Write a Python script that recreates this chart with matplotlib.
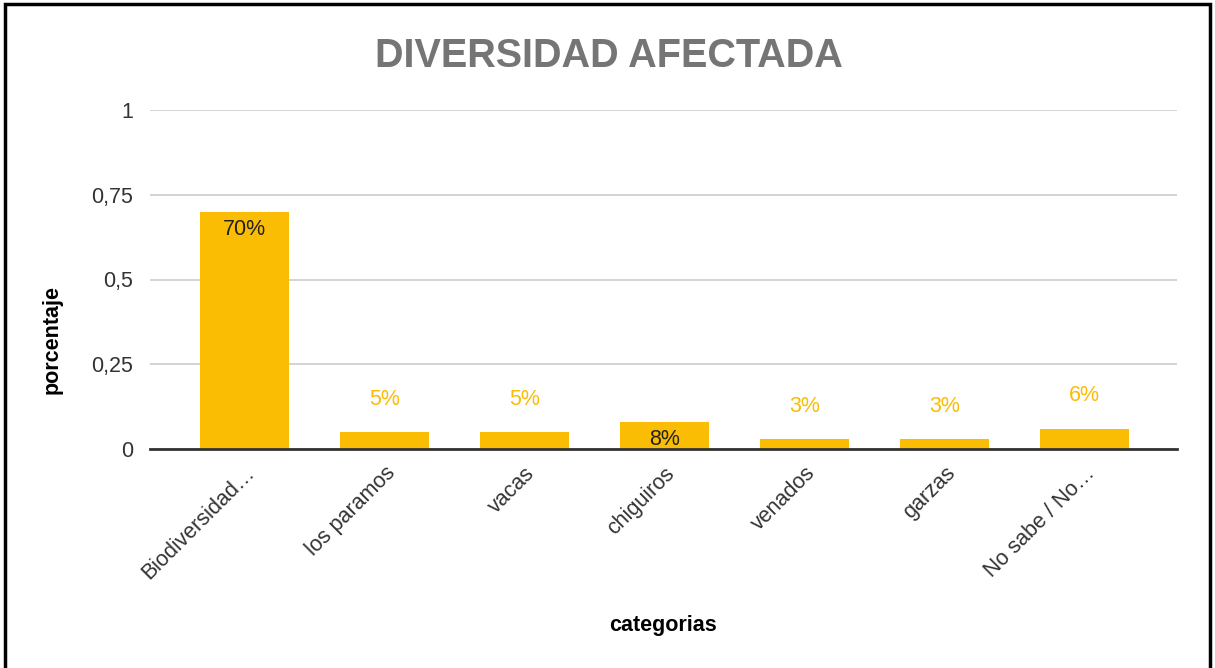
import matplotlib
matplotlib.use("Agg")
from matplotlib import pyplot as plt
from matplotlib.patches import Rectangle

categorias = ["Biodiversidad…", "los paramos", "vacas", "chiguiros", "venados", "garzas", "No sabe / No…"]
porcentaje = [0.70, 0.05, 0.05, 0.08, 0.03, 0.03, 0.06]
etiquetas = ["70%", "5%", "5%", "8%", "3%", "3%", "6%"]
dentro = [True, False, False, True, False, False, False]

y_ticks = [0, 0.25, 0.5, 0.75, 1]
y_tick_labels = ["0", "0,25", "0,5", "0,75", "1"]

plt.rcParams['font.family'] = ['Liberation Sans', 'DejaVu Sans']

fig = plt.figure(figsize=(12.15, 6.68), dpi=100)
ax = fig.add_axes([150/1215, 1 - 449/668, 1027/1215, 339/668])

x = list(range(len(categorias)))
ax.bar(x, porcentaje, width=0.64, color="#FBBC04", zorder=3)

for i, v in enumerate(porcentaje):
    if dentro[i]:
        ax.annotate(etiquetas[i], (i, v), xytext=(0, -5), textcoords="offset points",
                    ha="center", va="top", fontsize=15.5, color="#222222", zorder=4)
    else:
        ax.annotate(etiquetas[i], (i, v), xytext=(0, 16), textcoords="offset points",
                    ha="center", va="bottom", fontsize=15.5, color="#FBBC04", zorder=4)

ax.set_xlim(-0.675, len(categorias) - 1 + 0.66)
ax.set_ylim(0, 1)
ax.set_yticks(y_ticks)
ax.set_yticklabels(y_tick_labels, fontsize=15.5, color="#333333")
ax.set_xticks(x)
ax.set_xticklabels(categorias, rotation=45, ha="right", rotation_mode="anchor",
                   fontsize=15.5, color="#333333")
ax.tick_params(axis="both", length=0, pad=12)
ax.tick_params(axis="x", pad=10)

ax.grid(axis="y", color="#cccccc", linewidth=1.2, zorder=0)
for s in ["top", "right", "left"]:
    ax.spines[s].set_visible(False)
ax.spines["bottom"].set_color("#333333")
ax.spines["bottom"].set_linewidth(2)
ax.spines["bottom"].set_zorder(5)

fig.text(52/1215, 1 - 340/668, "porcentaje", rotation=90, ha="center", va="center",
         fontsize=15.5, fontweight="bold", color="black")
fig.text(663/1215, 1 - 625/668, "categorias", ha="center", va="center",
         fontsize=15.5, fontweight="bold", color="black")

fig.text(609/1215, 1 - 56/668, "DIVERSIDAD AFECTADA", ha="center", va="center",
         fontsize=28.5, fontweight="bold", color="#757575")

fig.patches.append(Rectangle((5/1215, -0.05), 1205/1215, 1 - 4/668 + 0.05,
                             transform=fig.transFigure, fill=False,
                             edgecolor="black", linewidth=2.5))

fig.savefig("out.png", dpi=100)
